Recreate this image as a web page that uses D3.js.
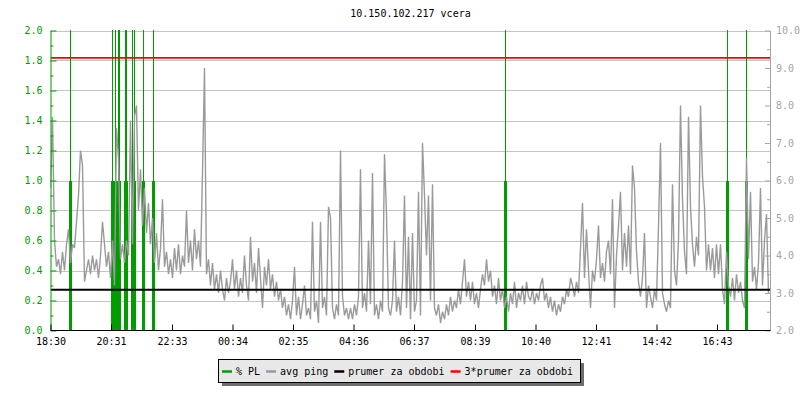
<!DOCTYPE html>
<html>
<head>
<meta charset="utf-8">
<script src="https://cdn.jsdelivr.net/npm/d3@7/dist/d3.min.js"></script>
<style>
	body { margin: 0; background: #fff; }
	text { font-family: "DejaVu Sans Mono", monospace; font-size: 10px; }
</style>
</head>
<body>
<div id="chart"></div>
<script>

// ---- data ----
const title = "10.150.102.217 vcera";
const timeLabels = ["18:30", "20:31", "22:33", "00:34", "02:35", "04:36", "06:37", "08:39", "10:40", "12:41", "14:42", "16:43"];
const leftTicks = [0.0, 0.2, 0.4, 0.6, 0.8, 1.0, 1.2, 1.4, 1.6, 1.8, 2.0];
const rightTicks = [2, 3, 4, 5, 6, 7, 8, 9, 10];
const legendLabels = ["% PL", "avg ping", "prumer za obdobi", "3*prumer za obdobi"];

// avg ping (ms, right axis), one sample every 4 minutes starting 18:30
const sampleStep = 4;
const avgPing = [
	5.8, 7.7, 4.4, 3.7, 3.9, 3.5, 4.1, 3.6, 4.3, 4.7, 3.8, 4.3, 4.2, 4.9, 5.6, 6.8, 6.4, 3.3, 3.6, 3.9, 3.5, 4.0, 3.6, 3.9, 3.4, 4.0, 4.9, 4.3, 3.7, 4.1,
	3.4, 4.4, 3.2, 7.4, 6.6, 3.9, 4.3, 3.8, 4.4, 4.0, 7.6, 4.3, 7.7, 8.0, 5.2, 6.3, 4.8, 5.8, 4.6, 5.4, 4.3, 5.0, 3.8, 4.6, 3.6, 4.2, 5.5, 3.7, 4.1, 3.5,
	3.9, 3.4, 4.2, 3.6, 4.3, 3.5, 4.0, 3.7, 5.2, 3.8, 4.4, 3.6, 4.7, 3.9, 4.4, 3.7, 6.2, 9.0, 3.5, 3.9, 3.2, 3.8, 3.1, 3.5, 3.0, 3.6, 3.1, 2.8, 3.4, 3.0,
	3.3, 3.9, 3.1, 3.6, 2.9, 3.4, 3.0, 4.0, 3.2, 2.8, 4.5, 3.3, 3.8, 3.0, 4.2, 3.4, 2.6, 3.7, 3.2, 3.9, 3.1, 3.5, 2.9, 3.3, 2.8, 3.1, 2.6, 2.9, 2.4, 2.7,
	2.3, 2.8, 3.7, 2.4, 2.9, 2.3, 2.7, 3.2, 2.4, 2.6, 2.3, 4.9, 2.5, 2.8, 2.2, 4.9, 2.6, 2.9, 2.4, 5.3, 5.0, 2.6, 2.3, 2.7, 2.4, 6.8, 2.9, 2.4, 2.6, 2.3,
	2.6, 2.3, 2.7, 2.4, 2.9, 6.3, 2.6, 3.0, 2.5, 4.4, 2.7, 6.2, 2.4, 2.7, 2.3, 2.8, 2.5, 6.7, 5.1, 2.6, 2.4, 2.8, 4.4, 2.5, 2.9, 2.4, 3.3, 5.6, 2.6, 4.5,
	2.3, 4.6, 2.5, 2.8, 5.7, 2.4, 7.0, 5.6, 4.0, 5.6, 2.8, 5.9, 2.6, 2.4, 2.7, 2.2, 2.5, 2.3, 2.7, 2.4, 2.9, 2.5, 2.8, 2.6, 3.1, 2.7, 3.3, 3.9, 2.9, 3.3,
	2.8, 3.3, 2.7, 3.0, 2.6, 3.1, 3.5, 3.2, 3.9, 3.3, 3.6, 2.9, 3.2, 2.7, 3.4, 2.8, 3.1, 2.6, 2.9, 2.5, 3.0, 2.7, 3.3, 2.6, 3.0, 2.8, 3.2, 2.7, 3.3, 2.9,
	2.8, 3.1, 2.7, 3.0, 2.8, 3.2, 3.4, 2.8, 3.0, 2.6, 2.9, 2.5, 2.8, 2.4, 2.7, 2.5, 2.9, 2.7, 3.1, 2.9, 3.4, 3.2, 2.9, 3.3, 3.0, 4.2, 5.4, 3.4, 4.7, 3.6,
	2.6, 3.6, 3.3, 3.9, 4.8, 3.4, 3.8, 3.3, 4.1, 4.4, 3.5, 5.5, 2.6, 4.0, 4.8, 5.7, 3.6, 4.6, 3.7, 4.8, 3.5, 6.4, 5.8, 4.1, 3.3, 2.9, 3.4, 4.6, 2.6, 3.2,
	2.9, 2.6, 3.1, 2.8, 4.8, 7.0, 3.0, 2.7, 2.5, 2.8, 2.6, 5.9, 3.6, 3.2, 4.4, 8.0, 5.5, 4.1, 3.5, 7.7, 5.3, 4.3, 3.7, 4.5, 4.0, 8.0, 6.1, 5.3, 3.6, 4.3,
	3.6, 4.2, 3.4, 4.3, 3.5, 4.3, 3.1, 2.7, 4.1, 3.2, 2.9, 3.4, 2.8, 3.5, 3.0, 3.3, 2.8, 2.6, 6.6, 3.9, 5.7, 3.3, 3.7, 3.1, 3.8, 5.8, 3.2, 4.4, 5.1, 3.0
];

// packet loss events (minutes after 18:30) and their value (left axis, clipped at top)
const plMinutes = [38, 123, 129, 134, 137, 149, 151, 163, 166, 185, 205, 909, 1352, 1390];
const plValues  = [100, 100, 100, 100, 100, 100, 100, 100, 100, 100, 100, 100, 100, 100];

const periodMean = 3.09; // prumer za obdobi (ms)

// ---- styles ----
const colors = {
	pl: "#009c00",
	ping: "#9a9a9a",
	mean: "#000000",
	mean3: "#ff0000",
	grid: "#c4c4c4",
	right: "#a4a4a4"
};
const legendColors = [colors.pl, colors.ping, colors.mean, colors.mean3];

// ---- layout ----
const width = 800, height = 400;
const plot = { left: 50.5, right: 770.5, top: 30.5, bottom: 330.5 };

const svg = d3.select("#chart").append("svg")
	.attr("width", width)
	.attr("height", height);

svg.append("defs").append("clipPath").attr("id", "clip")
	.append("rect")
	.attr("x", plot.left).attr("y", plot.top - 0.5)
	.attr("width", plot.right - plot.left).attr("height", plot.bottom - plot.top + 0.5);

// minutes after first label
const toMinutes = s => {
	let [h, m] = s.split(":").map(Number);
	let base = 18 * 60 + 30;
	let t = h * 60 + m - base;
	return t < 0 ? t + 1440 : t;
};

let x = d3.scaleLinear().domain([0, 1440]).range([plot.left, plot.right]);
let yL = d3.scaleLinear().domain([0, 2]).range([plot.bottom, plot.top]);
let yR = d3.scaleLinear().domain([2, 10]).range([plot.bottom, plot.top]);

// grid
svg.append("g")
	.selectAll("line")
	.data(leftTicks.filter(d => d > 0))
	.join("line")
	.attr("x1", plot.left).attr("x2", plot.right)
	.attr("y1", d => Math.round(yL(d)) + 0.5).attr("y2", d => Math.round(yL(d)) + 0.5)
	.attr("stroke", colors.grid);

// title
svg.append("text")
	.attr("x", (plot.left + plot.right) / 2)
	.attr("y", 17)
	.attr("text-anchor", "middle")
	.attr("fill", "#000")
	.text(title);

let plotG = svg.append("g").attr("clip-path", "url(#clip)");

// packet loss
let plData = plMinutes.map((t, i) => ({ t: t, v: plValues[i] }));

plotG.append("g")
	.selectAll("rect")
	.data(plData)
	.join("rect")
	.attr("x", d => Math.round(x(d.t)) - 1)
	.attr("width", 3)
	.attr("y", d => yL(Math.min(d.v, 1)))
	.attr("height", d => yL(0) - yL(Math.min(d.v, 1)))
	.attr("fill", colors.pl)
	.attr("shape-rendering", "crispEdges");

plotG.append("g")
	.selectAll("rect")
	.data(plData.filter(d => d.v > 1))
	.join("rect")
	.attr("x", d => Math.round(x(d.t)))
	.attr("width", 1)
	.attr("y", d => yL(Math.min(d.v, 2.05)))
	.attr("height", d => yL(1) - yL(Math.min(d.v, 2.05)))
	.attr("fill", colors.pl)
	.attr("shape-rendering", "crispEdges");

// avg ping
let pingLine = d3.line()
	.x((d, i) => x(i * sampleStep))
	.y(d => yR(d));

plotG.append("path")
	.datum(avgPing)
	.attr("d", pingLine)
	.attr("fill", "none")
	.attr("stroke", colors.ping)
	.attr("stroke-width", 1.4)
	.attr("stroke-linejoin", "bevel");

// period mean and 3x mean
plotG.append("line")
	.attr("x1", plot.left).attr("x2", plot.right)
	.attr("y1", yR(periodMean)).attr("y2", yR(periodMean))
	.attr("stroke", colors.mean).attr("stroke-width", 2);

plotG.append("line")
	.attr("x1", plot.left).attr("x2", plot.right)
	.attr("y1", yR(3 * periodMean)).attr("y2", yR(3 * periodMean))
	.attr("stroke", colors.mean3).attr("stroke-width", 1.6);

// left axis
let leftMinor = leftTicks.slice(1).map(d => d - 0.1);

svg.append("g")
	.attr("transform", `translate(${plot.left},0)`)
	.call(d3.axisLeft(yL).tickValues(leftMinor).tickSizeInner(-3).tickSizeOuter(0).tickFormat(""))
	.call(g => g.selectAll("line").attr("stroke", colors.pl))
	.call(g => g.select(".domain").remove());

svg.append("g")
	.attr("transform", `translate(${plot.left},0)`)
	.call(d3.axisLeft(yL).tickValues(leftTicks).tickSizeInner(-6).tickSizeOuter(0).tickPadding(8).tickFormat(d3.format(".1f")))
	.call(g => g.selectAll("line").attr("stroke", colors.pl))
	.call(g => g.select(".domain").attr("stroke", colors.pl))
	.call(g => g.selectAll("text").attr("fill", colors.pl).style("font-size", "10px").style("font-family", "DejaVu Sans Mono"));

// right axis
let rightMinor = rightTicks.slice(1).map(d => d - 0.5);

svg.append("g")
	.attr("transform", `translate(${plot.right - 0.5},0)`)
	.call(d3.axisRight(yR).tickValues(rightMinor).tickSizeInner(-3).tickSizeOuter(0).tickFormat(""))
	.call(g => g.selectAll("line").attr("stroke", colors.right))
	.call(g => g.select(".domain").remove());

svg.append("g")
	.attr("transform", `translate(${plot.right - 0.5},0)`)
	.call(d3.axisRight(yR).tickValues(rightTicks).tickSizeInner(-5).tickSizeOuter(0).tickPadding(6).tickFormat(d3.format(".1f")))
	.call(g => g.selectAll("line").attr("stroke", colors.right))
	.call(g => g.select(".domain").attr("stroke", colors.right))
	.call(g => g.selectAll("text").attr("fill", colors.right).style("font-size", "10px").style("font-family", "DejaVu Sans Mono"));

// bottom axis
svg.append("g")
	.attr("transform", `translate(0,${plot.bottom})`)
	.call(d3.axisBottom(x).tickValues(timeLabels.map(toMinutes)).tickSizeInner(-6).tickSizeOuter(0).tickPadding(7)
		.tickFormat((d, i) => timeLabels[i]))
	.call(g => g.selectAll("line").attr("stroke", "#000"))
	.call(g => g.select(".domain").attr("stroke", "#000").attr("d", `M${plot.left},0H${plot.right}`))
	.call(g => g.selectAll("text").attr("fill", "#000").style("font-size", "10px").style("font-family", "DejaVu Sans Mono"));

// legend
let lg = svg.append("g");
let lgBox = { x: 218.5, y: 359.5, w: 362, h: 23 };

lg.append("rect")
	.attr("x", lgBox.x + 3.5).attr("y", lgBox.y + 3.5)
	.attr("width", lgBox.w).attr("height", lgBox.h)
	.attr("fill", "#6e6e6e");

lg.append("rect")
	.attr("x", lgBox.x).attr("y", lgBox.y)
	.attr("width", lgBox.w).attr("height", lgBox.h)
	.attr("fill", "#e8e8e8")
	.attr("stroke", "#000");

let lx = 222;
legendLabels.forEach((label, i) => {
	lg.append("line")
		.attr("x1", lx).attr("x2", lx + 10)
		.attr("y1", 371.5).attr("y2", 371.5)
		.attr("stroke", legendColors[i]).attr("stroke-width", 2.5);
	let t = lg.append("text")
		.attr("x", lx + 14)
		.attr("y", 375)
		.attr("fill", "#000")
		.text(label);
	lx += 14 + t.node().getComputedTextLength() + 6;
});

</script>
</body>
</html>
